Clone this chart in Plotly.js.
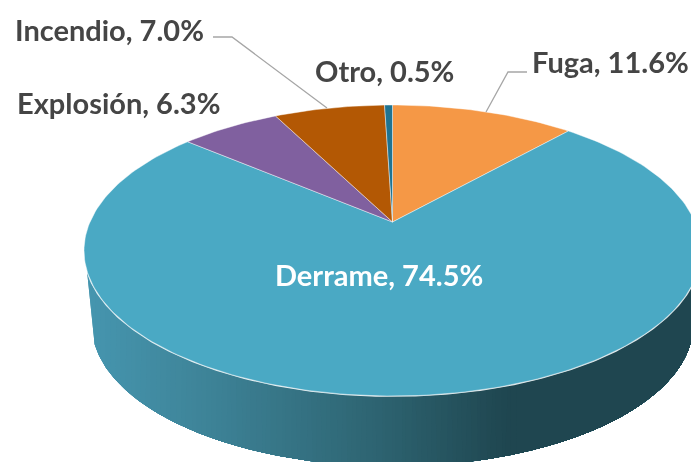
<!DOCTYPE html>
<html>
<head>
<meta charset="utf-8">
<script src="https://cdn.plot.ly/plotly-3.0.1.min.js"></script>
<style>
html,body{margin:0;padding:0;background:#fff;overflow:hidden}
#chart{width:691px;height:462px;filter:blur(0.6px)}
</style>
</head>
<body>
<div id="chart"></div>
<script>
// Data
const categories = ["Fuga", "Derrame", "Explosión", "Incendio", "Otro"];
const shares = [11.6, 74.5, 6.3, 7.0, 0.5];
const sliceColors = ["#F59846", "#4AA9C4", "#80609F", "#B35804", "#1F7391"];
const labelTexts = categories.map((c, i) => c + ", " + shares[i].toFixed(1) + "%");
const labelX = [610, 378.5, 118.5, 109, 384.5];
const labelY = [61, 274, 102, 29, 70];
const labelColors = ["#454545", "#FFFFFF", "#454545", "#454545", "#454545"];
const leaderX = [[527, 508, 486], [213, 232, 327]];
const leaderY = [[72, 72, 112], [37, 37, 108]];

// Perspective disc geometry
const cx = 392.5, cy = 222, A = 139.9, B = 302.5, w = 0.196;
const total = shares.reduce((a, b) => a + b, 0);
function rim(theta) {
  const u = Math.sin(theta), v = Math.cos(theta), d = 1 + w * v;
  return [cx + B * u / d, cy - A * v / d];
}
function floor(theta) {
  const p = rim(theta);
  return [cx + (p[0] - cx) * 0.975, 324 + (p[1] - 250) * 0.975];
}
function mix(a, b, t) {
  return "rgb(" + a.map((c, i) => Math.round(c + (b[i] - c) * t)).join(",") + ")";
}
function wallColor(x) {
  const stops = [[85, [70, 150, 175]], [200, [62, 132, 153]], [380, [45, 99, 112]], [505, [31, 70, 80]], [700, [31, 70, 80]]];
  for (let i = 0; i < stops.length - 1; i++) {
    if (x <= stops[i + 1][0]) {
      return mix(stops[i][1], stops[i + 1][1], Math.max(0, (x - stops[i][0]) / (stops[i + 1][0] - stops[i][0])));
    }
  }
  return mix(stops[4][1], stops[4][1], 0);
}

const traces = [];
const deg = Math.PI / 180;
const start = 100 * deg, end = 251 * deg, samples = 300;
const rimPts = [], floorPts = [];
for (let i = 0; i <= samples; i++) {
  const t = start + (end - start) * i / samples;
  rimPts.push(rim(t)); floorPts.push(floor(t));
}
// painted left to right: each layer covers everything to the right of its left edge
for (let xl = 80; xl < 520; xl += 5) {
  const r = rimPts.filter(p => p[0] >= xl);
  const f = floorPts.filter(p => p[0] >= xl).reverse();
  if (!r.length) continue;
  const poly = r.concat(f); poly.push(r[0]);
  traces.push({type: "scatter", mode: "lines", x: poly.map(q => q[0]), y: poly.map(q => q[1]),
    fill: "toself", fillcolor: wallColor(xl + 2.5), line: {width: 0, color: "rgba(0,0,0,0)"},
    hoverinfo: "skip", showlegend: false});
}
// front rim highlight
traces.push({type: "scatter", mode: "lines", x: rimPts.map(p => p[0]), y: rimPts.map(p => p[1]),
  line: {color: "rgba(255,255,255,0.85)", width: 1.8}, hoverinfo: "skip", showlegend: false});
// top face slices
let acc = 0;
shares.forEach((s, i) => {
  const t0 = acc / total * 2 * Math.PI; acc += s;
  const t1 = acc / total * 2 * Math.PI;
  const n = Math.max(2, Math.ceil(s * 3));
  const xs = [cx], ys = [cy];
  for (let k = 0; k <= n; k++) {
    const p = rim(t0 + (t1 - t0) * k / n);
    xs.push(p[0]); ys.push(p[1]);
  }
  xs.push(cx); ys.push(cy);
  traces.push({type: "scatter", mode: "lines", x: xs, y: ys, fill: "toself", fillcolor: sliceColors[i],
    line: {color: "rgba(255,255,255,0.55)", width: 0.8}, name: categories[i], hoverinfo: "name", showlegend: false});
});
// leader lines
leaderX.forEach((lx, i) => traces.push({type: "scatter", mode: "lines", x: lx, y: leaderY[i],
  line: {color: "#A6A6A6", width: 1.3}, hoverinfo: "skip", showlegend: false}));

const annotations = labelTexts.map((t, i) => ({
  x: labelX[i], y: labelY[i], xref: "x", yref: "y", text: t, showarrow: false,
  xanchor: "center", yanchor: "middle",
  font: {family: "Lato, Carlito, sans-serif", size: 29, color: labelColors[i], weight: 700}
}));

Plotly.newPlot("chart", traces, {
  width: 691, height: 462,
  margin: {l: 0, r: 0, t: 0, b: 0},
  paper_bgcolor: "#fff", plot_bgcolor: "#fff",
  xaxis: {range: [0, 691], visible: false, fixedrange: true},
  yaxis: {range: [462, 0], visible: false, fixedrange: true},
  annotations: annotations,
  showlegend: false
}, {displayModeBar: false, staticPlot: true});
</script>
</body>
</html>
